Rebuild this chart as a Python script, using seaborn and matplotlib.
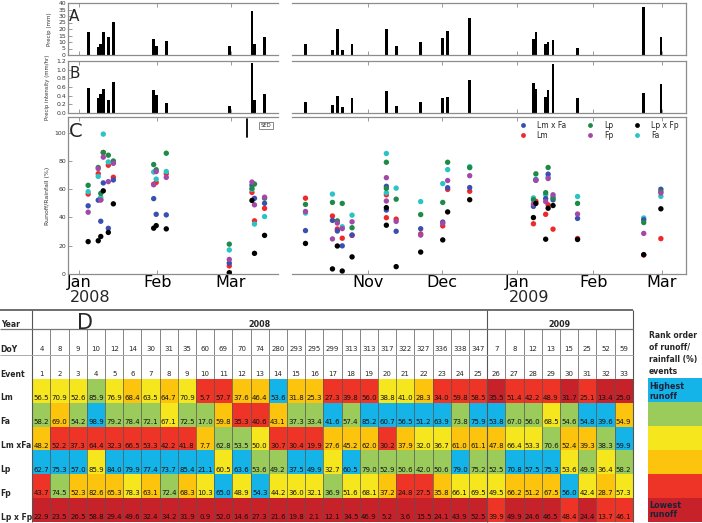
import numpy as np
import pandas as pd
import matplotlib.pyplot as plt
import matplotlib.dates as mdates
import matplotlib.transforms as mtransforms
from matplotlib.colors import ListedColormap
import seaborn as sns

sns.set_style('white')
plt.rcParams['font.family'] = ['DejaVu Sans']

# --- events ---
event_num = list(range(1, 34))
event_year = [2008] * 25 + [2009] * 8
event_doy = [4, 8, 9, 10, 12, 14, 30, 31, 35, 60, 69, 70, 74, 280, 293, 295, 299,
             313, 313, 317, 322, 327, 336, 338, 347, 7, 8, 12, 13, 15, 25, 52, 59]
# day used on the time axis (event 21 is drawn at day 291 in the original plot)
plot_doy = [4, 8, 9, 10, 12, 14, 30, 31, 35, 60, 69, 70, 74, 280, 293, 295, 299,
            313, 313, 317, 291, 327, 336, 338, 347, 7, 8, 12, 13, 15, 25, 52, 59]

precip_mm = [17.5, 6.2, 8.8, 17.5, 14.2, 25.3, 12.6, 6.7, 10.6, 6.7, 33.5, 8.5, 13.9,
             8.5, 20.1, 3.9, 8.5, 19.9, 19.9, 6.7, 3.6, 10.3, 13.4, 18.6, 28.4,
             12.4, 17.5, 8.3, 10.3, 11.6, 5.2, 36.9, 13.9]
precip_int = [0.58, 0.35, 0.45, 0.56, 0.30, 0.72, 0.54, 0.42, 0.24, 0.16, 1.15, 0.30, 0.45,
              0.26, 0.39, 0.15, 0.35, 0.50, 0.50, 0.17, 0.18, 0.26, 0.35, 0.38, 0.77,
              0.70, 0.56, 0.38, 0.54, 1.14, 0.35, 0.47, 0.68]

# runoff / rainfall (%)
lm = [56.5, 70.9, 52.6, 85.9, 76.9, 68.4, 63.5, 64.7, 70.9, 5.7, 57.7, 37.6, 46.4,
      53.6, 31.8, 25.3, 27.3, 39.8, 56.0, 38.8, 41.0, 28.3, 34.0, 59.8, 58.5,
      35.5, 51.4, 42.2, 48.9, 31.7, 25.1, 13.4, 25.0]
fa = [58.2, 69.0, 54.2, 98.9, 79.2, 78.4, 72.1, 67.1, 72.5, 17.0, 59.8, 35.3, 40.6,
      43.1, 37.3, 33.4, 41.6, 57.4, 85.2, 60.7, 56.5, 51.2, 63.9, 73.8, 75.9,
      53.8, 67.0, 56.0, 68.5, 54.6, 54.8, 39.6, 54.9]
lm_fa = [48.2, 52.2, 37.3, 64.4, 32.3, 66.5, 53.3, 42.2, 41.8, 7.7, 62.8, 53.5, 50.0,
         30.7, 30.4, 19.9, 27.6, 45.2, 62.0, 30.2, 37.9, 32.0, 36.7, 61.0, 61.1,
         47.8, 66.4, 53.3, 70.6, 52.4, 39.3, 38.3, 59.9]
lp = [62.7, 75.3, 57.0, 85.9, 84.0, 79.9, 77.4, 73.7, 85.4, 21.1, 60.5, 63.6, 53.6,
      49.2, 37.5, 49.9, 32.7, 60.5, 79.0, 52.9, 50.6, 42.0, 50.6, 79.0, 75.2,
      52.5, 70.8, 57.5, 75.3, 53.6, 49.9, 36.4, 58.2]
fp = [43.7, 74.5, 52.3, 82.6, 65.3, 78.3, 63.1, 72.4, 68.3, 10.3, 65.0, 48.9, 54.3,
      44.2, 36.0, 32.1, 36.9, 51.6, 68.1, 37.2, 24.8, 27.5, 35.8, 66.1, 69.5,
      49.5, 66.2, 51.2, 67.5, 56.0, 42.4, 28.7, 57.3]
lp_fp = [22.9, 23.5, 26.5, 58.8, 29.4, 49.6, 32.4, 34.2, 31.9, 0.9, 52.0, 14.6, 27.3,
         21.6, 19.8, 2.1, 12.1, 34.5, 46.9, 5.2, 3.6, 15.5, 24.1, 43.9, 52.5,
         39.9, 49.9, 24.6, 46.5, 48.4, 24.4, 13.7, 46.1]

row_names = ['Lm', 'Fa', 'Lm xFa', 'Lp', 'Fp', 'Lp x Fp']
series_names = ['Lm', 'Fa', 'Lm x Fa', 'Lp', 'Fp', 'Lp x Fp']
legend_order = ['Lm x Fa', 'Lm', 'Lp', 'Fp', 'Lp x Fp', 'Fa']
series_colors = {'Lm x Fa': '#3b4fb0', 'Lm': '#f0282a', 'Lp': '#1f8a48',
                 'Fp': '#a249a8', 'Lp x Fp': '#000000', 'Fa': '#2bc3c6'}
rank_colors = ['#14b4e9', '#9bcb5b', '#f6e61e', '#fdc40e', '#ee3426', '#c72129']
SED = 12.7

# --- data frames ---
dates = [pd.Timestamp(year=y, month=1, day=1) + pd.Timedelta(days=d - 0.5)
         for y, d in zip(event_year, plot_doy)]
xnum = mdates.date2num(dates)

tbl = pd.DataFrame([lm, fa, lm_fa, lp, fp, lp_fp], index=row_names, columns=event_num)
ranks = tbl.rank(axis=0, ascending=False, method='first') - 1

runoff = pd.concat([pd.DataFrame({'x': xnum, 'value': vals, 'series': name})
                    for name, vals in zip(series_names, [lm, fa, lm_fa, lp, fp, lp_fp])])

# --- figure ---
fig = plt.figure(figsize=(7.02, 5.23), dpi=100)


def px_axes(x0, y0, x1, y1):
    return fig.add_axes([x0 / 702, 1 - y1 / 523, (x1 - x0) / 702, (y1 - y0) / 523])


rows_px = [(3, 55), (61, 113), (117, 274)]
axes_l = [px_axes(68, a, 278, b) for a, b in rows_px]
axes_r = [px_axes(292, a, 686, b) for a, b in rows_px]

for i, vals in enumerate([precip_mm, precip_int]):
    for ax in (axes_l[i], axes_r[i]):
        ax.bar(xnum, vals, width=1.1, color='black', linewidth=0)

for ax in (axes_l[2], axes_r[2]):
    sns.scatterplot(data=runoff, x='x', y='value', hue='series', hue_order=legend_order,
                    palette=series_colors, s=15, linewidth=0, ax=ax,
                    legend=(ax is axes_r[2]))

lim_l = mdates.date2num([pd.Timestamp('2007-12-27 12:00'), pd.Timestamp('2008-03-19 20:00')])
lim_r = mdates.date2num([pd.Timestamp('2008-10-01'), pd.Timestamp('2009-03-10 18:00')])
ticks_l = mdates.date2num(pd.to_datetime(['2008-01-01', '2008-02-01', '2008-03-01']))
ticks_r = mdates.date2num(pd.to_datetime(['2008-11-01', '2008-12-01', '2009-01-01',
                                          '2009-02-01', '2009-03-01']))

ylims = [(0, 40), (0, 1.2), (0, 111)]
yticks = [np.arange(0, 41, 5), np.arange(0, 1.21, 0.2), np.arange(0, 101, 20)]
for i in range(3):
    for ax, lim, tk in ((axes_l[i], lim_l, ticks_l), (axes_r[i], lim_r, ticks_r)):
        ax.set_xlim(lim)
        ax.set_xticks(tk)
        ax.set_ylim(ylims[i])
        ax.set_yticks(yticks[i])
        ax.set_xlabel('')
        ax.set_ylabel('')
        for s in ax.spines.values():
            s.set_color('#8c8c8c')
            s.set_linewidth(0.9)
        ax.tick_params(direction='in', length=3, width=0.6, color='#8c8c8c',
                       labelsize=4.4, pad=1.5, bottom=True, top=True, left=True,
                       labelcolor='#333333')
        if i < 2:
            ax.tick_params(labelbottom=False)
    axes_l[i].spines['right'].set_visible(False)
    axes_r[i].spines['left'].set_visible(False)
    axes_r[i].tick_params(left=False, labelleft=False)

axes_l[1].set_yticklabels([f'{v:.1f}' for v in yticks[1]])

axes_l[0].set_ylabel('Precip (mm)', fontsize=4.0, color='#333333')
axes_l[1].set_ylabel('Precip intensity (mm/hr)', fontsize=3.9, color='#333333')
axes_l[2].set_ylabel('Runoff/Rainfall (%)', fontsize=4.5, color='#333333')
for ax, xf in zip(axes_l, [-0.075, -0.085, -0.085]):
    ax.yaxis.set_label_coords(xf, 0.5)

for ax, labels in ((axes_l[2], ['Jan', 'Feb', 'Mar']),
                   (axes_r[2], ['Nov', 'Dec', 'Jan', 'Feb', 'Mar'])):
    ax.set_xticklabels(labels, fontsize=11.5, color='black')
    ax.tick_params(axis='x', pad=1)
for ax, yr, jan in ((axes_l[2], '2008', ticks_l[0]), (axes_r[2], '2009', ticks_r[2])):
    ax.annotate(yr, xy=(jan, 0), xycoords=('data', 'axes fraction'), xytext=(-9, -16),
                textcoords='offset pixels', ha='left', va='top', fontsize=11.5)

for ax, letter, yf, fs in ((axes_l[0], 'A', 0.88, 11), (axes_l[1], 'B', 0.9, 11),
                           (axes_l[2], 'C', 0.97, 14)):
    ax.text(0.005, yf, letter, transform=ax.transAxes, ha='left', va='top', fontsize=fs)

# SED bar
axc = axes_l[2]
trans = mtransforms.blended_transform_factory(axc.transAxes, axc.transData)
axc.plot([0.854, 0.854], [109.4 - SED, 109.4], color='black', lw=1.3, transform=trans)
axc.text(0.943, 105, 'SED', transform=trans, ha='center', va='center', fontsize=3.8,
         bbox=dict(boxstyle='square,pad=0.25', fc='white', ec='#888888', lw=0.7))

sns.move_legend(axes_r[2], 'upper right', bbox_to_anchor=(0.99, 0.993), ncol=3,
                frameon=False, title=None, fontsize=5.5, borderaxespad=0,
                labelspacing=0.1, columnspacing=2.15, handletextpad=0.84, markerscale=0.9)

# --- table ---
axT = px_axes(32.3, 309.7, 632.7, 522)
sns.heatmap(ranks.values, cmap=ListedColormap(rank_colors), vmin=-0.5, vmax=5.5, cbar=False,
            annot=tbl.values, fmt='.1f', annot_kws={'fontsize': 5.0, 'color': '#111111'},
            xticklabels=False, yticklabels=False, ax=axT)
for t in axT.texts:
    x0, y0 = t.get_position()
    t.set_position((x0, y0 + 0.3))
axT.set_xlim(0, 33)
axT.set_ylim(6, -2.9)

lab_kw = dict(ha='left', va='center', fontsize=5.5, fontweight='bold', clip_on=False)
for i, name in enumerate(row_names):
    axT.text(-1.74, i + 0.8, name, **lab_kw)
axT.text(-1.74, -2.3, 'Year', **lab_kw)
axT.text(-1.74, -1.25, 'DoY', **lab_kw)
axT.text(-1.74, -0.2, 'Event', **lab_kw)
for j in range(33):
    axT.text(j + 0.5, -1.25, str(event_doy[j]), ha='center', va='center', fontsize=5.0)
    axT.text(j + 0.5, -0.2, str(event_num[j]), ha='center', va='center', fontsize=5.0)
axT.text(12.5, -2.3, '2008', ha='center', va='center', fontsize=5.8, fontweight='bold')
axT.text(29, -2.3, '2009', ha='center', va='center', fontsize=5.8, fontweight='bold')
axT.text(2.92, -2.33, 'D', ha='center', va='center', fontsize=15)

axT.vlines(np.arange(1, 33), -2.07, 6, color='#555555', lw=0.5)
axT.vlines([0, 25, 33], -2.9, 6, color='#555555', lw=0.8, clip_on=False)
axT.hlines(-2.9, -1.77, 33, color='#555555', lw=1.2, clip_on=False)
axT.hlines(-2.07, -1.77, 33, color='#777777', lw=0.9, clip_on=False)
axT.hlines(-1.0, -1.77, 33, color='#aaaaaa', lw=0.7, clip_on=False)

# --- rank legend ---
axL = px_axes(648, 378, 702, 522)
sns.heatmap(np.arange(6).reshape(6, 1), cmap=ListedColormap(rank_colors), vmin=-0.5,
            vmax=5.5, cbar=False, xticklabels=False, yticklabels=False, ax=axL)
axL.text(0.02, 0.55, 'Highest\nrunoff', ha='left', va='center', fontsize=5.8,
         fontweight='bold', color='#1c2238', linespacing=1.1)
axL.text(0.02, 5.5, 'Lowest\nrunoff', ha='left', va='center', fontsize=5.8,
         fontweight='bold', color='#1c2238', linespacing=1.1)
axL.text(0.02, -0.08, 'Rank order\nof runoff/\nrainfall (%)\nevents', ha='left',
         va='bottom', fontsize=5.5, fontweight='bold', linespacing=1.45, clip_on=False)

fig.savefig('out.png', dpi=100)
